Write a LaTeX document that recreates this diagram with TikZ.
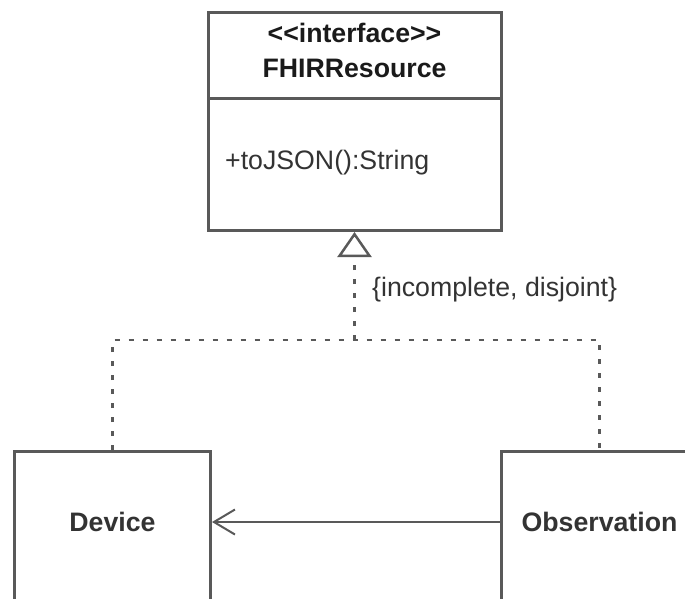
\documentclass[tikz,border=0pt]{standalone}
\usepackage{fontspec}
\setmainfont{Liberation Sans}
\usetikzlibrary{arrows.meta}
\definecolor{edge}{HTML}{595959}
\definecolor{ink}{HTML}{333333}
\definecolor{titleink}{HTML}{1A1A1A}

\begin{document}
\begin{tikzpicture}[x=1pt, y=-1pt,
  font=\fontsize{26.7pt}{35pt}\selectfont,
  box/.style={draw=edge, line width=3pt, inner sep=0pt},
  label/.style={text=ink, inner sep=0pt},
  tree/.style={draw=edge, line width=2.5pt, dash pattern=on 5pt off 9pt},
  gen/.style={tree, -{Triangle[open, length=25pt, width=34pt, line width=2.5pt]}},
  assoc/.style={draw=edge, line width=2pt, -{Straight Barb[length=21pt, width=25pt, line width=2pt]}}
]
\useasboundingbox (0,0) rectangle (685,598);
\clip (0,0) rectangle (685,598);

% interface class: name compartment and operation compartment
\node[box, minimum width=293pt, minimum height=86pt, anchor=north] (fhirtitle) at (354.5,11) {};
\node[box, minimum width=293pt, minimum height=132pt, anchor=north] (fhirbody) at (354.5,97) {};
\node[label, align=center, text=titleink, font=\fontsize{26.7pt}{35pt}\selectfont\bfseries]
  (stereotype) at (354.5,50) {{<}{<}interface{>}{>}\\FHIRResource};
\node[label, anchor=base west] (operation) at (225,169) {+toJSON():String};

% implementing classes (running off the page)
\node[box, minimum width=196pt, minimum height=250pt, anchor=north west]
  (device) at (13,450) {};
\node[box, minimum width=196pt, minimum height=250pt, anchor=north west]
  (observation) at (500,450) {};
\node[label, font=\fontsize{26.7pt}{35pt}\selectfont\bfseries]
  (devicename) at (device.north |- 0,522) {Device};
\node[label, font=\fontsize{26.7pt}{35pt}\selectfont\bfseries]
  (observationname) at (observation.north |- 0,522) {Observation};

% realization tree
\coordinate (split) at (354.5,340);
\draw[gen] (split) -- (fhirbody.south);
\draw[tree] (device.north) |- (split) -| (observation.north);
\node[label, anchor=west] (constraint) at (372,290) {\{incomplete, disjoint\}};

% association
\draw[assoc] (observation.west |- devicename) -- (device.east |- devicename);
\end{tikzpicture}
\end{document}
